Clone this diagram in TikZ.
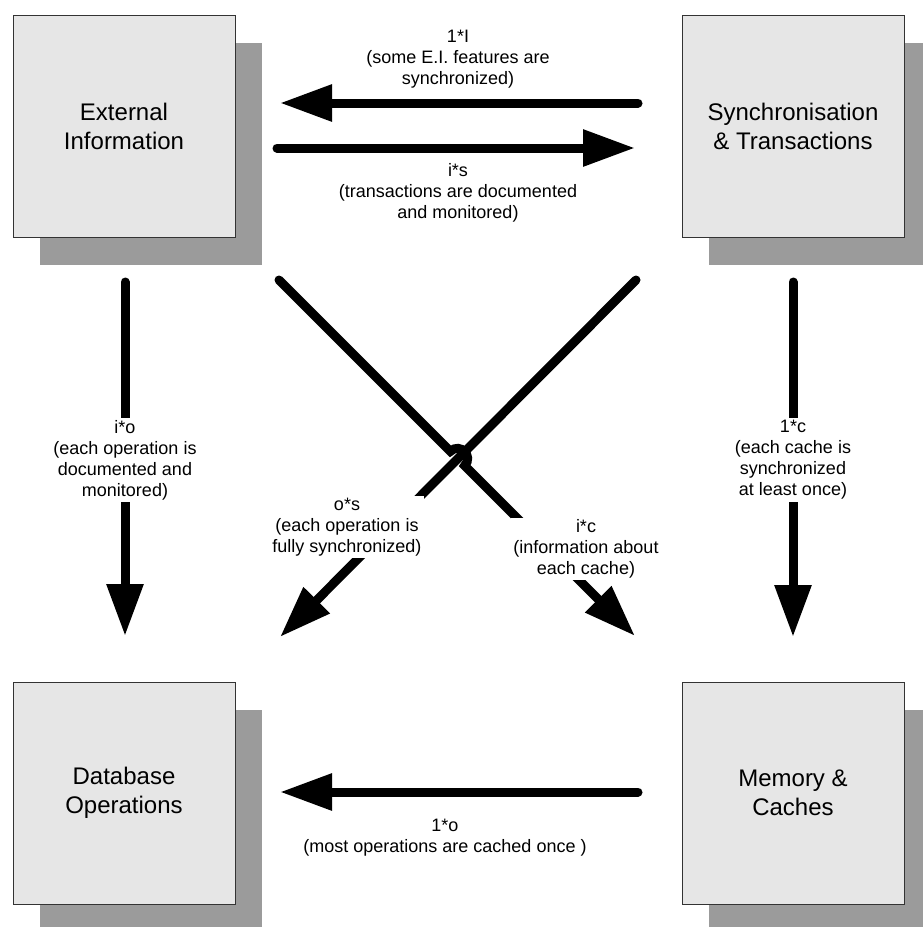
\documentclass[tikz,border=0pt]{standalone}
\usepackage{fontspec}
\setmainfont{Liberation Sans}
\usetikzlibrary{arrows.meta}
\definecolor{boxfill}{HTML}{E6E6E6}
\definecolor{shadowgray}{HTML}{9B9B9B}
\definecolor{boxline}{HTML}{333333}
\begin{document}
\begin{tikzpicture}[x=1pt,y=-1pt,
  box/.style={draw=boxline, line width=0.8pt, fill=boxfill, minimum width=222pt, minimum height=222pt, inner sep=0pt, align=center, font=\fontsize{24}{29}\selectfont},
  shadowbox/.style={fill=shadowgray, minimum width=222pt, minimum height=222pt, inner sep=0pt},
  flow/.style={line width=9pt, line cap=round, -{Triangle[length=52pt,width=35pt]}},
  lab/.style={fill=white, inner sep=2pt, align=center, font=\fontsize{18}{21}\selectfont}]
\useasboundingbox (0,0) rectangle (922,927);
% shadows
\node[shadowbox] (eiS) at (151,154) {};
\node[shadowbox] (stS) at (820,154) {};
\node[shadowbox] (dbS) at (151,821) {};
\node[shadowbox] (mcS) at (820,821) {};
% boxes
\node[box] (ei) at (124,126) {External\\Information};
\node[box] (st) at (793,126) {Synchronisation\\\& Transactions};
\node[box] (db) at (124,793) {Database\\Operations};
\node[box] (mc) at (793,793) {Memory \&\\Caches};
% endpoints
\coordinate (a1s) at (638,103); \coordinate (a1e) at (280,103);
\coordinate (a2s) at (277,148); \coordinate (a2e) at (635,148);
\coordinate (a3s) at (125,282); \coordinate (a3e) at (125,636);
\coordinate (a4s) at (793,282); \coordinate (a4e) at (793,637);
\coordinate (a5s) at (636,280); \coordinate (a5e) at (280,637);
\coordinate (a6s) at (279,280); \coordinate (a6e) at (635,636);
\coordinate (h1) at (450.4,451.4); \coordinate (h2) at (464.6,465.6);
\coordinate (a7s) at (638,792); \coordinate (a7e) at (280,792);
% arrows
\draw[flow] (a1s) -- (a1e);
\draw[flow] (a2s) -- (a2e);
\draw[flow] (a3s) -- (a3e);
\draw[flow] (a4s) -- (a4e);
\draw[flow] (a5s) -- (a5e);
\draw[flow] (a6s) -- (h1) .. controls (459.8,442.0) and (474.0,456.2) .. (h2) -- (a6e);
\draw[flow] (a7s) -- (a7e);
% labels
\node[lab] (l1) at (458,59) {1*I\\(some E.I. features are\\synchronized)};
\node[lab] (l2) at (458,193) {i*s\\(transactions are documented\\and monitored)};
\node[lab] (l3) at (125,460) {i*o\\(each operation is\\documented and\\monitored)};
\node[lab] (l4) at (793,460) {1*c\\(each cache is\\synchronized\\at least once)};
\node[lab] (l5) at (347,527) {o*s\\(each operation is\\fully synchronized)};
\node[lab] (l6) at (586,549) {i*c\\(information about\\each cache)};
\node[lab] (l7) at (445,838) {1*o\\(most operations are cached once )};
\end{tikzpicture}
\end{document}
